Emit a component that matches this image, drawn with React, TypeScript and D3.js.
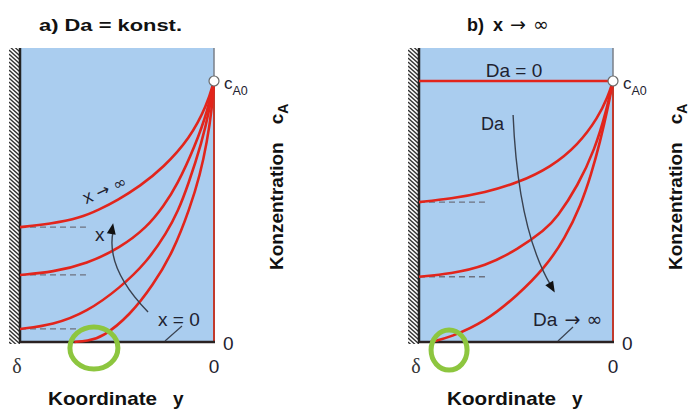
import React from "react";
import * as d3 from "d3";

// [position y/δ (1 = wall δ, 0 = surface), cA / cA0]
type Pt = [number, number];

// panel a) Da = konst., x grows from 0 to ∞
const curveA1: Pt[] = [[1, 0.44], [0.845, 0.452], [0.69, 0.475], [0.59, 0.508], [0.5, 0.542], [0.38, 0.598], [0.263, 0.667], [0.124, 0.78], [0.036, 0.908], [0, 1]];
const curveA2: Pt[] = [[1, 0.257], [0.83, 0.268], [0.655, 0.3], [0.485, 0.36], [0.345, 0.44], [0.26, 0.52], [0.191, 0.6], [0.098, 0.75], [0.031, 0.89], [0, 1]];
const curveA3: Pt[] = [[1, 0.05], [0.83, 0.065], [0.655, 0.115], [0.485, 0.207], [0.345, 0.307], [0.242, 0.421], [0.186, 0.5], [0.134, 0.6], [0.062, 0.766], [0.021, 0.897], [0, 1]];
const curveA4: Pt[] = [[0.72, 0], [0.655, 0.004], [0.572, 0.019], [0.433, 0.103], [0.314, 0.218], [0.211, 0.345], [0.124, 0.513], [0.072, 0.64], [0.036, 0.766], [0.01, 0.897], [0, 1]];

// panel b) x -> ∞, Da grows from 0 to ∞
const curveB0: Pt[] = [[1, 1], [0, 1]];
const curveB1: Pt[] = [[1, 0.536], [0.835, 0.549], [0.66, 0.572], [0.49, 0.61], [0.32, 0.67], [0.18, 0.755], [0.077, 0.86], [0.026, 0.94], [0, 1]];
const curveB2: Pt[] = [[1, 0.25], [0.835, 0.262], [0.66, 0.29], [0.49, 0.355], [0.35, 0.43], [0.29, 0.475], [0.18, 0.6], [0.093, 0.74], [0.036, 0.88], [0, 1]];
const curveB3: Pt[] = [[0.94, 0], [0.835, 0.019], [0.66, 0.077], [0.49, 0.18], [0.351, 0.284], [0.247, 0.398], [0.165, 0.525], [0.113, 0.64], [0.067, 0.766], [0.026, 0.897], [0, 1]];

const curvesA = [curveA1, curveA2, curveA3, curveA4];
const curvesB = [curveB0, curveB1, curveB2, curveB3];
// wall values that get a dashed guide line
const dashA = [0.44, 0.257, 0.05];
const dashB = [0.536, 0.25];

const W = 689;
const H = 410;
const TOP = 48;
const BOTTOM = 342;
const C0 = 81;
const PW = 194;

const BLUE = "#aacdef";
const RED = "#e2251c";
const INK = "#1e2230";
const SANS = "'Liberation Sans', Arial, sans-serif";
const SYM = "'DejaVu Sans', sans-serif";

const yScale = d3.scaleLinear().domain([0, 1]).range([BOTTOM, C0]);

const arrowHead = (x: number, y: number, dx: number, dy: number, len = 11, wid = 4.5) => {
  const l = Math.hypot(dx, dy);
  const ux = dx / l, uy = dy / l;
  const bx = x - ux * len, by = y - uy * len;
  return `M${x},${y}L${bx - uy * wid},${by + ux * wid}L${bx + uy * wid},${by - ux * wid}Z`;
};

const Panel = ({ left, id, curves, dashes, children }: any) => {
  const x = d3.scaleLinear().domain([1, 0]).range([left, left + PW]);
  const line = d3.line<Pt>().x((d) => x(d[0])).y((d) => yScale(d[1])).curve(d3.curveBasis);
  const right = left + PW;
  const hatch = d3.range(TOP - 14, BOTTOM + 4, 4);

  return (
    <g>
      <defs>
        <clipPath id={`wall-${id}`}>
          <rect x={left - 11} y={TOP} width={11} height={BOTTOM - TOP + 2} />
        </clipPath>
      </defs>
      <rect x={left} y={TOP} width={PW} height={BOTTOM - TOP} fill={BLUE} />
      <g clipPath={`url(#wall-${id})`} stroke="#333" strokeWidth={1.3}>
        {hatch.map((h) => (
          <line key={h} x1={left - 11} y1={h} x2={left} y2={h + 10} />
        ))}
      </g>
      <line x1={left} x2={left} y1={TOP} y2={BOTTOM + 1} stroke="#222" strokeWidth={2.5} />
      <line x1={right} x2={right} y1={TOP} y2={C0} stroke="#7a7f88" strokeWidth={1.5} />
      <line x1={right} x2={right} y1={C0} y2={BOTTOM} stroke="#c23a2c" strokeWidth={2} />
      <line x1={left} x2={right + 1} y1={BOTTOM} y2={BOTTOM} stroke="#2a2222" strokeWidth={2.5} />
      {dashes.map((c: number, i: number) => (
        <line key={i} x1={x(1)} x2={x(0.66)} y1={yScale(c)} y2={yScale(c)}
          stroke="#6d7280" strokeWidth={1.3} strokeDasharray="6,4" />
      ))}
      {curves.map((c: Pt[], i: number) => (
        <path key={i} d={line(c) ?? ""} fill="none" stroke={RED} strokeWidth={2.6} />
      ))}
      <circle cx={x(0)} cy={yScale(1)} r={5} fill="#fff" stroke="#6b6b6b" strokeWidth={1.2} />

      <text x={right + 10} y={89} fontFamily={SANS} fontSize={17} fill={INK}>
        c<tspan fontSize={12.5} dy={6}>A0</tspan>
      </text>
      <text x={right + 9} y={350} fontFamily={SANS} fontSize={19} fill={INK}>0</text>
      <text x={right} y={373} fontFamily={SANS} fontSize={19} fill={INK} textAnchor="middle">0</text>
      <text x={left - 3} y={373} fontFamily="'Liberation Serif', serif" fontSize={20} fill="#333" textAnchor="middle">δ</text>
      <text y={405} fontFamily={SANS} fontSize={19} fontWeight="bold" fill="#111">
        <tspan x={left + 28} textLength={109} lengthAdjust="spacingAndGlyphs">Koordinate</tspan>
        <tspan x={left + 153}>y</tspan>
      </text>
      <text transform={`translate(${right + 69},270) rotate(-90)`} fontFamily={SANS} fontSize={19}
        fontWeight="bold" fill="#111">
        Konzentration<tspan dx={18}>c</tspan><tspan fontSize={14} dy={5}>A</tspan>
      </text>
      {children(x)}
    </g>
  );
};

export default function App() {
  return (
    <svg width={W} height={H} style={{ position: "absolute", left: 0, top: 0, background: "#fff" }}>
      <Panel left={20} id="a" curves={curvesA} dashes={dashA}>
        {(x: any) => {
          const p0: [number, number] = [x(0.34), yScale(0.115)];
          const p2: [number, number] = [x(0.52), yScale(0.455)];
          const cp: [number, number] = [x(0.56), yScale(0.283)];
          return (
            <g>
              <text x={39} y={31} fontFamily={SANS} fontSize={17} fontWeight="bold" fill="#111"
                textLength={143} lengthAdjust="spacingAndGlyphs">a)  Da = konst.</text>
              <text transform="translate(107,195) rotate(-24)" fontFamily={SANS} fontSize={18}
                fill={INK} textAnchor="middle">x <tspan fontFamily={SYM} fontSize={16}>→ ∞</tspan></text>
              <text x={95} y={241} fontFamily={SANS} fontSize={19} fill={INK}>x</text>
              <path d={`M${p0[0]},${p0[1]}Q${cp[0]},${cp[1]} ${p2[0]},${p2[1] + 8}`} fill="none"
                stroke="#3a4250" strokeWidth={1.4} />
              <path d={arrowHead(p2[0], p2[1], p2[0] - cp[0], p2[1] - cp[1])} fill="#111" />
              <text x={158} y={326} fontFamily={SANS} fontSize={19} fill={INK}>x = 0</text>
              <line x1={165} y1={341} x2={182} y2={326} stroke="#3a4250" strokeWidth={1.2} />
              <ellipse cx={x(0.619)} cy={yScale(-0.023)} rx={24} ry={21} fill="none" stroke="#8dc63f" strokeWidth={5} />
            </g>
          );
        }}
      </Panel>
      <Panel left={419} id="b" curves={curvesB} dashes={dashB}>
        {(x: any) => {
          const p0: [number, number] = [x(0.515), yScale(0.87)];
          const p2: [number, number] = [x(0.3), yScale(0.19)];
          const cp: [number, number] = [x(0.49), yScale(0.43)];
          return (
            <g>
              <text x={467} y={31} fontFamily={SANS} fontSize={18} fontWeight="bold" fill="#111">
                b)<tspan dx={9}>x</tspan><tspan fontFamily={SYM} fontWeight="normal" fontSize={19} dx={7}>→</tspan>
                <tspan fontFamily={SYM} fontWeight="normal" fontSize={19} dx={7}>∞</tspan>
              </text>
              <text x={514} y={77} fontFamily={SANS} fontSize={19} fill={INK} textAnchor="middle">Da = 0</text>
              <text x={481} y={130} fontFamily={SANS} fontSize={18} fill={INK}>Da</text>
              <path d={`M${p0[0]},${p0[1]}Q${cp[0]},${cp[1]} ${p2[0] - 4},${p2[1] - 7}`} fill="none"
                stroke="#3a4250" strokeWidth={1.4} />
              <path d={arrowHead(p2[0], p2[1], p2[0] - cp[0], p2[1] - cp[1])} fill="#111" />
              <text x={533} y={326} fontFamily={SANS} fontSize={19} fill={INK}>
                Da <tspan fontFamily={SYM} fontSize={19} dx={2}>→ ∞</tspan>
              </text>
              <line x1={558} y1={341} x2={573} y2={327} stroke="#3a4250" strokeWidth={1.2} />
              <ellipse cx={x(0.845)} cy={yScale(-0.031)} rx={18} ry={20} fill="none" stroke="#8dc63f" strokeWidth={5} />
            </g>
          );
        }}
      </Panel>
    </svg>
  );
}
